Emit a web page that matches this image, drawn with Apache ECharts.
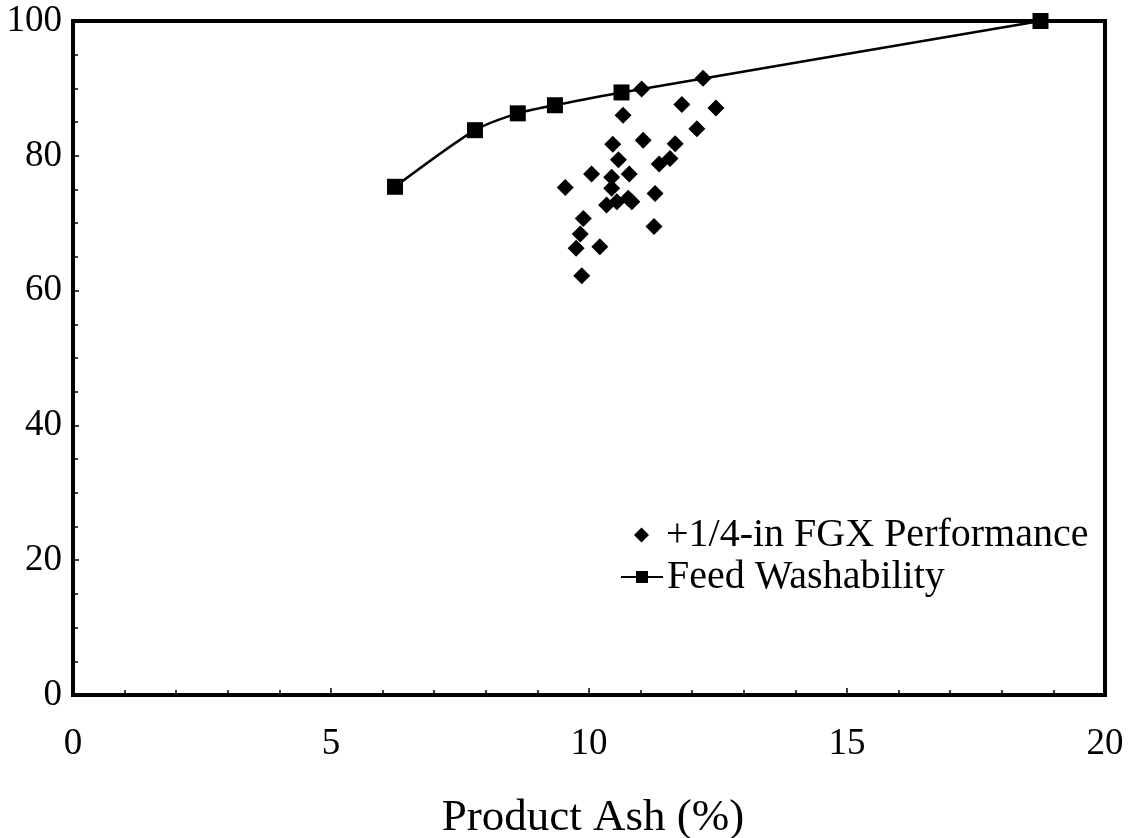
<!DOCTYPE html>
<html>
<head>
<meta charset="utf-8">
<title>Product Ash</title>
<script src="https://cdn.jsdelivr.net/npm/echarts@6/dist/echarts.min.js"></script>
<style>
	html, body {
		margin: 0;
		padding: 0;
		background: #fff;
	}
	#chart {
		width: 1135px;
		height: 838px;
	}
</style>
</head>
<body>
<div id="chart"></div>
<script>
	// Feed washability curve (ash %, yield %)
	var washAsh = [6.24, 7.79, 8.62, 9.34, 10.63, 18.75];
	var washYield = [75.4, 83.8, 86.3, 87.5, 89.4, 100];

	// +1/4-in FGX performance points
	var fgxAsh = [11.02, 12.21, 11.80, 12.46, 10.66, 12.09, 10.46, 11.05, 11.67, 10.57,
		11.57, 11.36, 10.05, 10.44, 10.78, 9.54, 10.44, 11.28, 10.34, 10.54,
		10.76, 10.83, 9.89, 11.26, 9.83, 9.75, 10.21, 9.86];
	var fgxYield = [89.9, 91.5, 87.6, 87.1, 86.0, 84.0, 81.7, 82.3, 81.8, 79.4,
		79.6, 78.8, 77.3, 76.8, 77.3, 75.3, 75.2, 74.4, 72.7, 73.2,
		73.7, 73.2, 70.7, 69.5, 68.4, 66.3, 66.5, 62.2];

	var xTicks = [0, 5, 10, 15, 20];
	var yTicks = [0, 20, 40, 60, 80, 100];

	var seriesNames = ['+1/4-in FGX Performance', 'Feed Washability'];

	function pairs(xs, ys) {
		var out = [];
		for (var i = 0; i < xs.length; i++) {
			out.push([xs[i], ys[i]]);
		}
		return out;
	}

	var font = '"Liberation Serif", "DejaVu Serif", serif';

	var myChart = echarts.init(document.getElementById('chart'));
	myChart.setOption({
		animation: false,
		backgroundColor: '#fff',
		grid: {
			left: 73,
			right: 30,
			top: 21,
			bottom: 143,
			outerBoundsMode: 'none', // keep the plot box fixed
			show: true,
			borderColor: '#000',
			borderWidth: 4
		},
		// two legends so the diamond keeps its shape and the texts line up
		legend: [{
			left: 629,
			top: 510,
			itemWidth: 15,
			itemHeight: 15,
			data: [seriesNames[0]],
			textStyle: {
				fontFamily: font,
				fontSize: 40,
				color: '#000',
				padding: [0, 0, 0, 12]
			}
		}, {
			left: 615,
			top: 552,
			itemWidth: 42,
			itemHeight: 15,
			data: [seriesNames[1]],
			textStyle: {
				fontFamily: font,
				fontSize: 40,
				color: '#000',
				padding: [0, 0, 0, -1]
			}
		}],
		xAxis: {
			type: 'value',
			min: xTicks[0],
			max: xTicks[xTicks.length - 1],
			interval: 5,
			name: 'Product Ash (%)',
			nameLocation: 'middle',
			nameGap: 101,
			nameTextStyle: {
				fontFamily: font,
				fontSize: 45,
				color: '#000',
				padding: [0, 0, 0, 8]
			},
			axisLine: {
				show: true,
				lineStyle: { color: '#000', width: 4 }
			},
			axisTick: {
				show: true,
				inside: true,
				length: 7,
				lineStyle: { color: '#000', width: 1.5 }
			},
			minorTick: {
				show: true,
				splitNumber: 5,
				length: 5,
				lineStyle: { color: '#000', width: 1.5 }
			},
			axisLabel: {
				fontFamily: font,
				fontSize: 37,
				color: '#000',
				margin: 31
			},
			splitLine: { show: false }
		},
		yAxis: {
			type: 'value',
			min: yTicks[0],
			max: yTicks[yTicks.length - 1],
			interval: 20,
			axisLine: {
				show: true,
				lineStyle: { color: '#000', width: 4 }
			},
			axisTick: {
				show: true,
				inside: true,
				length: 6,
				lineStyle: { color: '#000', width: 1.5 }
			},
			minorTick: {
				show: true,
				splitNumber: 4,
				length: 5,
				lineStyle: { color: '#000', width: 1.5 }
			},
			axisLabel: {
				fontFamily: font,
				fontSize: 37,
				color: '#000',
				margin: 11
			},
			splitLine: { show: false }
		},
		series: [{
			name: seriesNames[0],
			type: 'scatter',
			data: pairs(fgxAsh, fgxYield),
			symbol: 'diamond',
			symbolSize: 17,
			itemStyle: { color: '#000', opacity: 1 },
			z: 3
		}, {
			name: seriesNames[1],
			type: 'line',
			data: pairs(washAsh, washYield),
			smooth: 0.25,
			symbol: 'rect',
			symbolSize: 16,
			lineStyle: { color: '#000', width: 2.5 },
			itemStyle: { color: '#000' },
			z: 4
		}]
	});
</script>
</body>
</html>
